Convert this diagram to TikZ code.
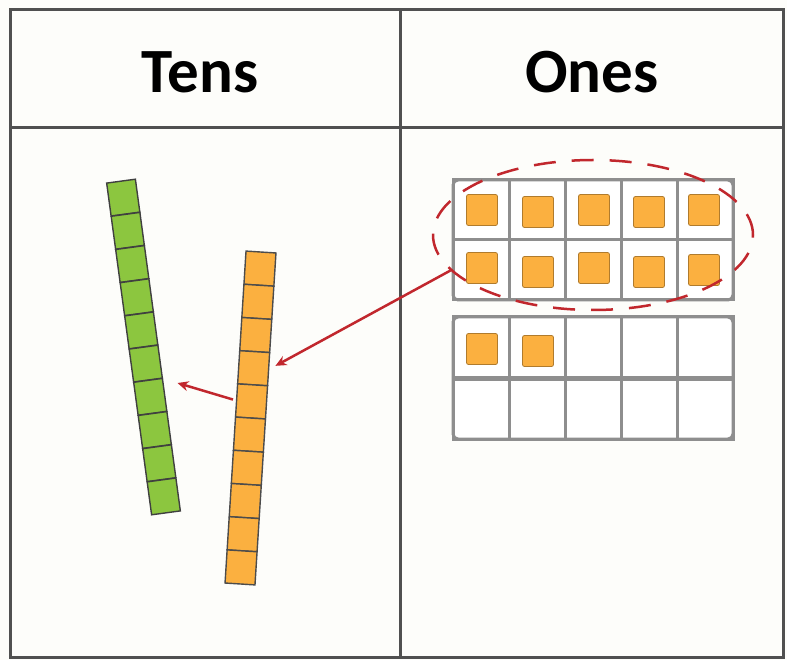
\documentclass[tikz,border=0pt]{standalone}
\usepackage{fontspec}
\setmainfont{Carlito}
\usetikzlibrary{arrows.meta,shapes.geometric}
\definecolor{rodgreen}{HTML}{8CC63F}
\definecolor{rodorange}{HTML}{FBB040}
\definecolor{framegray}{HTML}{505050}
\definecolor{gridgray}{HTML}{8E8E8E}
\definecolor{markred}{HTML}{C1272D}
\definecolor{paper}{HTML}{FDFDFA}

\begin{document}
\begin{tikzpicture}[x=1pt, y=-1pt,
  header/.style={font=\bfseries\fontsize{63}{66}\selectfont},
  greencell/.style={rectangle, draw=black!75, fill=rodgreen, minimum width=29pt, minimum height=33.2pt, inner sep=0pt, line width=1.4pt},
  orangecell/.style={rectangle, draw=black!70, fill=rodorange, minimum width=30pt, minimum height=33.2pt, inner sep=0pt, line width=1.4pt},
  framecell/.style={rectangle, draw=gridgray, fill=white, line width=3pt, minimum width=56pt, minimum height=60pt, inner sep=0pt, outer sep=0pt},
  onecube/.style={rectangle, rounded corners=2pt, draw=rodorange!70!black, fill=rodorange, minimum size=31pt, inner sep=0pt, line width=0.8pt},
  redarrow/.style={markred, line width=2.5pt, -{Stealth[length=11pt,width=10pt]}}
]
\useasboundingbox (0,0) rectangle (787,660);
\fill[paper] (0,0) rectangle (787,660);

% Place value chart
\draw[framegray, line width=3pt] (10,10) rectangle (783,657);
\draw[framegray, line width=3pt] (10,128) -- (783,128);
\draw[framegray, line width=3pt] (400,10) -- (400,657);
\node[header] (tens) at (200,72) {Tens};
\node[header] (ones) at (592,72) {Ones};

% Green rod of ten
\foreach \i in {0,...,9} {
  \node[greencell, rotate=7.7] (g\i) at ({121+4.5*(\i+0.5)},{181+33.2*(\i+0.5)}) {};
}
% Orange rod of ten
\foreach \i in {0,...,9} {
  \node[orangecell, rotate=-3.6] (o\i) at ({261-2.1*(\i+0.5)},{252+33.2*(\i+0.5)}) {};
}

% Ten frames
\foreach \r in {1,2} {
  \foreach \c in {1,...,5} {
    \node[framecell] (a\r\c) at ({481+56*(\c-1)},{210+60*(\r-1)}) {};
    \node[framecell] (b\r\c) at ({481+56*(\c-1)},{347+62*(\r-1)}) {};
  }
}
\draw[gridgray, line width=3pt, rounded corners=5pt] (a11.north west) rectangle (a25.south east);
\draw[gridgray, line width=3pt, rounded corners=5pt] (b11.north west) rectangle (b25.south east);

% Ones in the frames
\foreach \c/\dx/\dy in {1/1/0,2/1/2,3/1/0,4/0/2,5/-1/0} {
  \node[onecube] (c1\c) at ([shift={(\dx,\dy)}]a1\c) {};
}
\foreach \c/\dx/\dy in {1/1/-2,2/1/2,3/1/-2,4/0/2,5/-1/0} {
  \node[onecube] (c2\c) at ([shift={(\dx,\dy)}]a2\c) {};
}
\node[onecube] (d11) at ([shift={(1,2)}]b11) {};
\node[onecube] (d12) at ([shift={(1,4)}]b12) {};

% Ten ones grouped and traded
\node[ellipse, draw=markred, line width=2.5pt, dash pattern=on 22pt off 16pt, minimum width=320pt, minimum height=150pt] (ring) at (593,235) {};
\draw[redarrow, shorten >=7pt] (ring.194) -- (o3.east);
\draw[redarrow, shorten >=15pt, shorten <=3pt] (o4.west) -- (g5.south east);
\end{tikzpicture}
\end{document}
